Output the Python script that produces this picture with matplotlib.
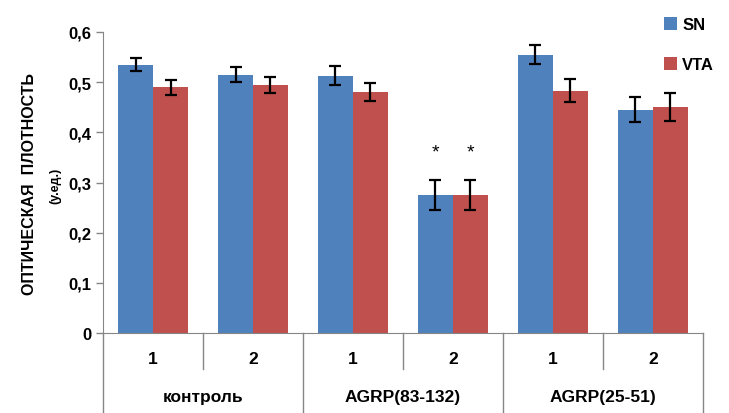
import numpy as np
import matplotlib.pyplot as plt
import matplotlib.transforms as mtransforms

plt.rcParams['font.family'] = ['Liberation Sans', 'DejaVu Sans']

sub_labels = ['1', '2', '1', '2', '1', '2']
groups = ['контроль', 'AGRP(83-132)', 'AGRP(25-51)']
sn = [0.535, 0.515, 0.513, 0.275, 0.555, 0.445]
sn_err = [0.013, 0.015, 0.019, 0.029, 0.019, 0.025]
vta = [0.490, 0.495, 0.480, 0.275, 0.483, 0.450]
vta_err = [0.015, 0.016, 0.018, 0.029, 0.023, 0.028]
stars = ['', '', '', '*', '', '']

blue = '#4F81BD'
red = '#C0504D'
grey = '#868686'

fig = plt.figure(figsize=[7.29, 4.14], dpi=100)
ax = fig.add_axes([0.1413, 0.1932, 0.8230, 0.7271])

x = np.arange(len(sn))
w = 0.35
ax.bar(x - w/2, sn, w, color=blue, label='SN')
ax.bar(x + w/2, vta, w, color=red, label='VTA')
ax.errorbar(x - w/2, sn, yerr=sn_err, fmt='none', ecolor='black',
            elinewidth=1.6, capsize=4, capthick=1.6)
ax.errorbar(x + w/2, vta, yerr=vta_err, fmt='none', ecolor='black',
            elinewidth=1.6, capsize=4, capthick=1.6)

# звездочки над значимыми столбцами
for i, s in enumerate(stars):
    if s:
        ax.text(x[i] - w/2, 0.36, s, ha='center', va='center', fontsize=14)
        ax.text(x[i] + w/2, 0.36, s, ha='center', va='center', fontsize=14)

ax.set_xlim(-0.5, 5.5)
ax.set_ylim(0, 0.6)
ax.set_yticks(np.arange(0, 0.61, 0.1))
ax.set_yticklabels(['0', '0,1', '0,2', '0,3', '0,4', '0,5', '0,6'],
                   fontsize=12, fontweight='bold')
ax.set_xticks(x)
ax.set_xticklabels(sub_labels, fontsize=12.5, fontweight='bold')
ax.tick_params(axis='x', length=0, pad=13)
ax.tick_params(axis='y', length=5, color=grey, width=1)

for side in ['top', 'right']:
    ax.spines[side].set_visible(False)
ax.spines['bottom'].set_color(grey)
ax.spines['left'].set_color(grey)
ax.spines['left'].set_bounds(0, 0.6)

# таблица подписей под осью
tr = mtransforms.blended_transform_factory(ax.transData, ax.transAxes)
for xs in [0.5, 2.5, 4.5]:
    ax.plot([xs, xs], [0, -0.12], transform=tr, color=grey, lw=1, clip_on=False)
for xs in [-0.5, 1.5, 3.5, 5.5]:
    ax.plot([xs, xs], [0, -0.27], transform=tr, color=grey, lw=1, clip_on=False)
for i, g in enumerate(groups):
    ax.text(2*i + 0.5, -0.21, g, transform=tr, ha='center', va='center',
            fontsize=12.5, fontweight='bold')

ax.set_ylabel('ОПТИЧЕСКАЯ  ПЛОТНОСТЬ', fontsize=11.5, fontweight='bold')
ax.yaxis.set_label_coords(-0.11, 0.5)
fig.text(0.076, 0.55, '(у.ед.)', rotation=90, ha='center', va='center',
         fontsize=9, fontweight='bold')

ax.legend(loc='upper left', bbox_to_anchor=(0.91, 1.1), frameon=False,
          prop={'size': 12, 'weight': 'bold'}, handlelength=0.8,
          handleheight=0.8, labelspacing=1.5, handletextpad=0.3)

fig.savefig('out.png', dpi=100)
